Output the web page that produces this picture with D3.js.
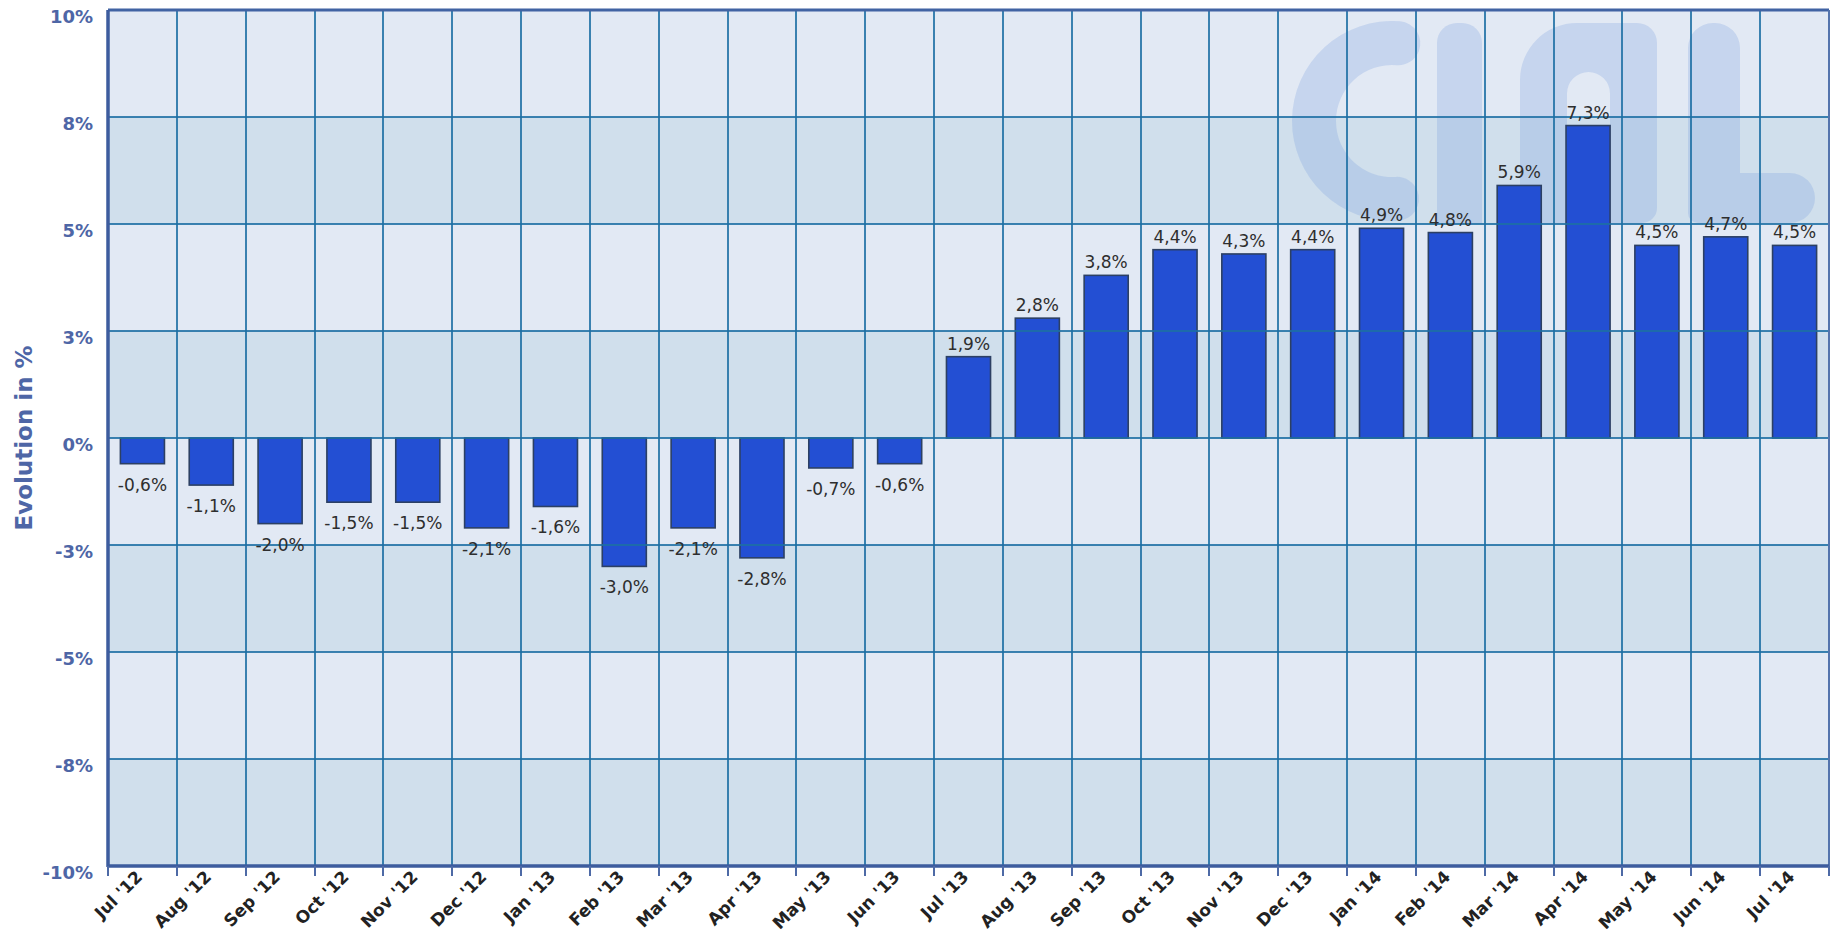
<!DOCTYPE html>
<html>
<head>
<meta charset="utf-8">
<script src="https://cdn.jsdelivr.net/npm/d3@7"></script>
<style>
  html, body { margin: 0; padding: 0; background: #fff; }
  svg { display: block; font-family: "DejaVu Sans", Verdana, sans-serif; }
</style>
</head>
<body>
<div id="chart"></div>
<script>
const width = 1831;
const height = 933;

// data
const months = [
  "Jul '12", "Aug '12", "Sep '12", "Oct '12", "Nov '12", "Dec '12",
  "Jan '13", "Feb '13", "Mar '13", "Apr '13", "May '13", "Jun '13",
  "Jul '13", "Aug '13", "Sep '13", "Oct '13", "Nov '13", "Dec '13",
  "Jan '14", "Feb '14", "Mar '14", "Apr '14", "May '14", "Jun '14", "Jul '14"
];
const values = [
  -0.6, -1.1, -2.0, -1.5, -1.5, -2.1,
  -1.6, -3.0, -2.1, -2.8, -0.7, -0.6,
  1.9, 2.8, 3.8, 4.4, 4.3, 4.4,
  4.9, 4.8, 5.9, 7.3, 4.5, 4.7, 4.5
];
const yTicks = [10, 7.5, 5, 2.5, 0, -2.5, -5, -7.5, -10];
const yTickLabels = ["10%", "8%", "5%", "3%", "0%", "-3%", "-5%", "-8%", "-10%"];
const yTitle = "Evolution in %";

const margin = { top: 10, right: 2, bottom: 67, left: 108 };
const plotW = width - margin.left - margin.right;
const plotH = height - margin.top - margin.bottom;

const svg = d3.select("#chart")
  .append("svg")
  .attr("width", width)
  .attr("height", height);

const g = svg.append("g")
  .attr("transform", `translate(${margin.left},${margin.top})`);

const x = d3.scaleBand()
  .domain(months)
  .range([0, plotW])
  .paddingInner(0.36)
  .paddingOuter(0.18);

const y = d3.scaleLinear()
  .domain([-10, 10])
  .range([plotH, 0]);

const step = x.step();
const boundaries = d3.range(months.length + 1).map(i => i * step);

const locale = d3.formatLocale({
  decimal: ",",
  thousands: ".",
  grouping: [3],
  currency: ["", ""],
  minus: "-",
});
const fmt = d => locale.format(".1f")(d) + "%";

svg.append("defs").append("clipPath")
  .attr("id", "plotClip")
  .append("rect")
  .attr("width", plotW)
  .attr("height", plotH);

// alternating background bands
const bands = d3.pairs(yTicks);
g.selectAll(".band")
  .data(bands)
  .join("rect")
  .attr("class", "band")
  .attr("x", 0)
  .attr("width", plotW)
  .attr("y", d => y(d[0]))
  .attr("height", d => y(d[1]) - y(d[0]))
  .attr("fill", (d, i) => i % 2 === 0 ? "#e2e9f4" : "#d0dfec");

// watermark logo (page coordinates)
const logo = g.append("g")
  .attr("clip-path", "url(#plotClip)")
  .append("g")
  .attr("transform", `translate(${-margin.left},${-margin.top})`)
  .attr("fill", "#7aa0dc")
  .attr("fill-opacity", 0.27);

const deg = Math.PI / 180;
logo.append("path")
  .attr("transform", "translate(1392,121)")
  .attr("d", d3.arc()
    .innerRadius(56)
    .outerRadius(100)
    .startAngle(160 * deg)
    .endAngle(381 * deg)
    .cornerRadius(22)());

logo.append("path")
  .attr("d", "M1437,224 V43 A20,20 0 0 1 1457,23 H1462 A20,20 0 0 1 1482,43 V224 Z");

logo.append("path")
  .attr("fill-rule", "evenodd")
  .attr("d", "M1520,224 V80 A57,57 0 0 1 1577,23 H1637 A20,20 0 0 1 1657,43 V208 A15,15 0 0 1 1642,223 H1520 Z " +
             "M1567,224 V93.5 A21.5,21.5 0 0 1 1610,93.5 V224 Z");

logo.append("path")
  .attr("d", "M1688,48 A25,25 0 0 1 1713,23 H1715 A25,25 0 0 1 1740,48 V173 H1790 A25,25 0 0 1 1790,223 H1698 A10,10 0 0 1 1688,213 Z");

// bars
g.selectAll(".bar")
  .data(values)
  .join("rect")
  .attr("class", "bar")
  .attr("x", (d, i) => x(months[i]))
  .attr("width", x.bandwidth())
  .attr("y", d => y(Math.max(0, d)))
  .attr("height", d => Math.abs(y(d) - y(0)))
  .attr("fill", "#234fd3")
  .attr("stroke", "#2c4064")
  .attr("stroke-width", 1.6);

// grid lines (drawn over bars)
const grid = g.append("g")
  .attr("stroke", "#1c6fa3")
  .attr("stroke-width", 2)
  .attr("stroke-opacity", 0.85);

grid.selectAll(".hgrid")
  .data(yTicks.filter(t => t !== 10 && t !== -10))
  .join("line")
  .attr("x1", 0)
  .attr("x2", plotW)
  .attr("y1", d => Math.round(y(d)))
  .attr("y2", d => Math.round(y(d)));

grid.selectAll(".vgrid")
  .data(boundaries.slice(1, -1))
  .join("line")
  .attr("x1", d => Math.round(d))
  .attr("x2", d => Math.round(d))
  .attr("y1", 0)
  .attr("y2", plotH);

// plot frame
g.append("line")
  .attr("x1", 0).attr("x2", plotW).attr("y1", 0).attr("y2", 0)
  .attr("stroke", "#4163a3").attr("stroke-width", 3);
g.append("line")
  .attr("x1", plotW).attr("x2", plotW).attr("y1", 0).attr("y2", plotH)
  .attr("stroke", "#5474ad").attr("stroke-width", 2);
g.append("line")
  .attr("x1", 0).attr("x2", 0).attr("y1", 0).attr("y2", plotH + 1)
  .attr("stroke", "#3d5c9e").attr("stroke-width", 3.5);
g.append("line")
  .attr("x1", 0).attr("x2", plotW).attr("y1", plotH).attr("y2", plotH)
  .attr("stroke", "#3d5c9e").attr("stroke-width", 3.5);

// x ticks at month boundaries
g.selectAll(".xtick")
  .data(boundaries)
  .join("line")
  .attr("x1", d => Math.round(d))
  .attr("x2", d => Math.round(d))
  .attr("y1", plotH)
  .attr("y2", plotH + 10)
  .attr("stroke", "#4e6aa6")
  .attr("stroke-width", 2);

// x labels
g.selectAll(".xlabel")
  .data(months)
  .join("text")
  .attr("class", "xlabel")
  .attr("transform", d => `translate(${x(d) + x.bandwidth() / 2 + 1},${plotH + 12}) rotate(-45)`)
  .attr("text-anchor", "end")
  .attr("font-size", 17)
  .attr("font-weight", "bold")
  .attr("fill", "#222")
  .text(d => d);

// y labels
g.selectAll(".ylabel")
  .data(yTicks)
  .join("text")
  .attr("class", "ylabel")
  .attr("x", -15)
  .attr("y", d => y(d) + 7)
  .attr("dy", "0.35em")
  .attr("text-anchor", "end")
  .attr("font-size", 18)
  .attr("font-weight", "bold")
  .attr("fill", "#4e66a6")
  .text((d, i) => yTickLabels[i]);

// y title
svg.append("text")
  .attr("transform", `translate(32,${margin.top + y(0)}) rotate(-90)`)
  .attr("text-anchor", "middle")
  .attr("font-size", 23)
  .attr("font-weight", "bold")
  .attr("fill", "#4e66a6")
  .text(yTitle);

// value labels
g.selectAll(".vlabel")
  .data(values)
  .join("text")
  .attr("class", "vlabel")
  .attr("x", (d, i) => x(months[i]) + x.bandwidth() / 2)
  .attr("y", d => d >= 0 ? y(d) - 7 : y(d) + 27)
  .attr("text-anchor", "middle")
  .attr("font-size", 17)
  .attr("fill", "#2e2e2e")
  .text(fmt);
</script>
</body>
</html>
